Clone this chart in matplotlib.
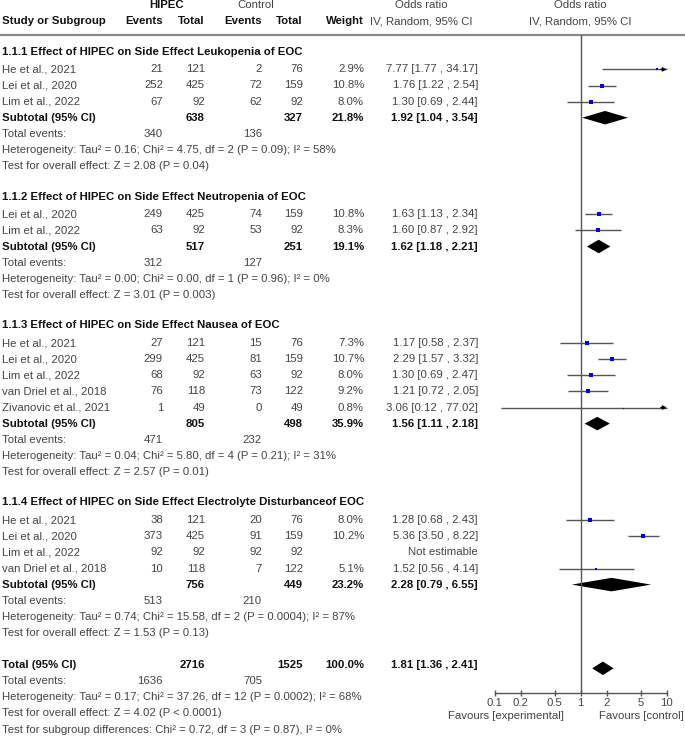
import numpy as np
import matplotlib.pyplot as plt
from matplotlib.patches import Polygon
from matplotlib.ticker import NullLocator

plt.rcParams['font.family'] = ['Liberation Sans', 'DejaVu Sans']

# ---- data ----
group_titles = [
    "1.1.1 Effect of HIPEC on Side Effect Leukopenia of EOC",
    "1.1.2 Effect of HIPEC on Side Effect Neutropenia of EOC",
    "1.1.3 Effect of HIPEC on Side Effect Nausea of EOC",
    "1.1.4 Effect of HIPEC on Side Effect Electrolyte Disturbanceof EOC",
]
study_names = [
    ["He et al., 2021", "Lei et al., 2020", "Lim et al., 2022"],
    ["Lei et al., 2020", "Lim et al., 2022"],
    ["He et al., 2021", "Lei et al., 2020", "Lim et al., 2022",
     "van Driel et al., 2018", "Zivanovic et al., 2021"],
    ["He et al., 2021", "Lei et al., 2020", "Lim et al., 2022",
     "van Driel et al., 2018"],
]
hipec_events = [[21, 252, 67], [249, 63], [27, 299, 68, 76, 1], [38, 373, 92, 10]]
hipec_total = [[121, 425, 92], [425, 92], [121, 425, 92, 118, 49], [121, 425, 92, 118]]
ctrl_events = [[2, 72, 62], [74, 53], [15, 81, 63, 73, 0], [20, 91, 92, 7]]
ctrl_total = [[76, 159, 92], [159, 92], [76, 159, 92, 122, 49], [76, 159, 92, 122]]
weights = [[2.9, 10.8, 8.0], [10.8, 8.3], [7.3, 10.7, 8.0, 9.2, 0.8], [8.0, 10.2, None, 5.1]]
or_est = [[7.77, 1.76, 1.30], [1.63, 1.60], [1.17, 2.29, 1.30, 1.21, 3.06], [1.28, 5.36, None, 1.52]]
or_lo = [[1.77, 1.22, 0.69], [1.13, 0.87], [0.58, 1.57, 0.69, 0.72, 0.12], [0.68, 3.50, None, 0.56]]
or_hi = [[34.17, 2.54, 2.44], [2.34, 2.92], [2.37, 3.32, 2.47, 2.05, 77.02], [2.43, 8.22, None, 4.14]]

sub_hipec_total = [638, 517, 805, 756]
sub_ctrl_total = [327, 251, 498, 449]
sub_weight = [21.8, 19.1, 35.9, 23.2]
sub_or = [1.92, 1.62, 1.56, 2.28]
sub_lo = [1.04, 1.18, 1.11, 0.79]
sub_hi = [3.54, 2.21, 2.18, 6.55]
sub_ev_hipec = [340, 312, 471, 513]
sub_ev_ctrl = [136, 127, 232, 210]
sub_het = [
    "Heterogeneity: Tau\u00b2 = 0.16; Chi\u00b2 = 4.75, df = 2 (P = 0.09); I\u00b2 = 58%",
    "Heterogeneity: Tau\u00b2 = 0.00; Chi\u00b2 = 0.00, df = 1 (P = 0.96); I\u00b2 = 0%",
    "Heterogeneity: Tau\u00b2 = 0.04; Chi\u00b2 = 5.80, df = 4 (P = 0.21); I\u00b2 = 31%",
    "Heterogeneity: Tau\u00b2 = 0.74; Chi\u00b2 = 15.58, df = 2 (P = 0.0004); I\u00b2 = 87%",
]
sub_z = [
    "Test for overall effect: Z = 2.08 (P = 0.04)",
    "Test for overall effect: Z = 3.01 (P = 0.003)",
    "Test for overall effect: Z = 2.57 (P = 0.01)",
    "Test for overall effect: Z = 1.53 (P = 0.13)",
]

total_hipec, total_ctrl = 2716, 1525
total_or, total_lo, total_hi = 1.81, 1.36, 2.41
total_ev_hipec, total_ev_ctrl = 1636, 705
total_het = "Heterogeneity: Tau\u00b2 = 0.17; Chi\u00b2 = 37.26, df = 12 (P = 0.0002); I\u00b2 = 68%"
total_z = "Test for overall effect: Z = 4.02 (P < 0.0001)"
subgroup_diff = "Test for subgroup differences: Chi\u00b2 = 0.72, df = 3 (P = 0.87), I\u00b2 = 0%"

ticks = [0.1, 0.2, 0.5, 1, 2, 5, 10]
tick_labels = ["0.1", "0.2", "0.5", "1", "2", "5", "10"]

# ---- layout (pixels) ----
W, H = 685, 740
ROW0, ROWH = 5.0, 16.1
X_NAME, X_HEV, X_HTOT, X_CEV, X_CTOT, X_W, X_OR = 2, 163, 205, 262, 303, 364, 478
FS = 8.2
GREY = '#444444'
BLACK = '#111111'

fig = plt.figure(figsize=(W / 100, H / 100), dpi=100)
ax = fig.add_axes([0, 0, 1, 1])
ax.set_xlim(0, W)
ax.set_ylim((H - ROW0) / ROWH, -ROW0 / ROWH)
ax.axis('off')

def pix_row(y):
    return (y - ROW0) / ROWH

# forest panel: log axis between OR 0.1 and 10
ax_top, ax_bot = 35, 692.7
x01, x10 = 494.6, 666.8
fx = fig.add_axes([x01 / W, (H - ax_bot) / H, (x10 - x01) / W, (ax_bot - ax_top) / H])
fx.set_xscale('log')
fx.set_xlim(0.1, 10)
fx.set_ylim(pix_row(ax_bot), pix_row(ax_top))
fx.patch.set_alpha(0)
for s in ['top', 'left', 'right']:
    fx.spines[s].set_visible(False)
fx.spines['bottom'].set_color('#555555')
fx.spines['bottom'].set_linewidth(1.0)
fx.set_yticks([])
fx.set_xticks(ticks)
fx.set_xticklabels(tick_labels)
fx.xaxis.set_minor_locator(NullLocator())
fx.tick_params(axis='x', direction='inout', length=4, width=1.0, color='#555555',
               labelsize=FS, labelcolor=GREY, pad=1.5)
fx.axvline(1, color='#555555', lw=1.0)


def txt(x, r, s, ha='left', bold=False, color=None):
    ax.text(x, r, s, ha=ha, va='center', fontsize=FS,
            fontweight='bold' if bold else 'normal',
            color=color or (BLACK if bold else GREY))


def ci_text(e, lo, hi):
    return f"{e:.2f} [{lo:.2f} , {hi:.2f}]"


def diamond(r, e, lo, hi):
    h = 0.42
    fx.add_patch(Polygon([[lo, r], [e, r - h], [hi, r], [e, r + h]],
                         closed=True, color='black', lw=0, clip_on=False))


# headers
txt(167, 0, "HIPEC", ha='center', bold=True)
txt(256, 0, "Control", ha='center')
txt(421, 0, "Odds ratio", ha='center')
txt(580, 0, "Odds ratio", ha='center')
txt(X_NAME, 1, "Study or Subgroup", bold=True)
txt(X_HEV, 1, "Events", ha='right', bold=True)
txt(X_HTOT, 1, "Total", ha='right', bold=True)
txt(X_CEV, 1, "Events", ha='right', bold=True)
txt(X_CTOT, 1, "Total", ha='right', bold=True)
txt(X_W, 1, "Weight", ha='right', bold=True)
txt(421, 1, "IV, Random, 95% CI", ha='center')
txt(580, 1, "IV, Random, 95% CI", ha='center')
ax.hlines(pix_row(35), 0, W, color='#8a8a8a', lw=1.6)

r = 3
for g in range(len(group_titles)):
    txt(X_NAME, r - 0.1, group_titles[g], bold=True)
    r += 1
    for i, name in enumerate(study_names[g]):
        txt(X_NAME, r, name)
        txt(X_HEV, r, str(hipec_events[g][i]), ha='right')
        txt(X_HTOT, r, str(hipec_total[g][i]), ha='right')
        txt(X_CEV, r, str(ctrl_events[g][i]), ha='right')
        txt(X_CTOT, r, str(ctrl_total[g][i]), ha='right')
        w = weights[g][i]
        if w is None:
            txt(X_OR, r, "Not estimable", ha='right')
        else:
            txt(X_W, r, f"{w:.1f}%", ha='right')
            e, lo, hi = or_est[g][i], or_lo[g][i], or_hi[g][i]
            txt(X_OR, r, ci_text(e, lo, hi), ha='right')
            fx.hlines(r, max(lo, 0.1), min(hi, 10), color='#555555', lw=1.0, clip_on=False)
            if hi > 10:
                fx.annotate('', xy=(10, r), xytext=(8.5, r),
                            arrowprops=dict(arrowstyle='-|>', color='black', lw=0.8,
                                            mutation_scale=6, shrinkA=0, shrinkB=0))
            fx.plot(e, r, 's', color='#0000ee', ms=0.95 * np.sqrt(w), mew=0, clip_on=False)
        r += 1
    txt(X_NAME, r, "Subtotal (95% CI)", bold=True)
    txt(X_HTOT, r, str(sub_hipec_total[g]), ha='right', bold=True)
    txt(X_CTOT, r, str(sub_ctrl_total[g]), ha='right', bold=True)
    txt(X_W, r, f"{sub_weight[g]:.1f}%", ha='right', bold=True)
    txt(X_OR, r, ci_text(sub_or[g], sub_lo[g], sub_hi[g]), ha='right', bold=True)
    diamond(r, sub_or[g], sub_lo[g], sub_hi[g])
    r += 1
    txt(X_NAME, r, "Total events:")
    txt(X_HEV, r, str(sub_ev_hipec[g]), ha='right')
    txt(X_CEV, r, str(sub_ev_ctrl[g]), ha='right')
    r += 1
    txt(X_NAME, r, sub_het[g])
    r += 1
    txt(X_NAME, r, sub_z[g])
    r += 2

txt(X_NAME, r, "Total (95% CI)", bold=True)
txt(X_HTOT, r, str(total_hipec), ha='right', bold=True)
txt(X_CTOT, r, str(total_ctrl), ha='right', bold=True)
txt(X_W, r, "100.0%", ha='right', bold=True)
txt(X_OR, r, ci_text(total_or, total_lo, total_hi), ha='right', bold=True)
diamond(r + 0.2, total_or, total_lo, total_hi)
r += 1
txt(X_NAME, r, "Total events:")
txt(X_HEV, r, str(total_ev_hipec), ha='right')
txt(X_CEV, r, str(total_ev_ctrl), ha='right')
r += 1
txt(X_NAME, r, total_het)
r += 1
txt(X_NAME, r, total_z)
r += 1
txt(X_NAME, r, subgroup_diff)

txt(506, pix_row(716), "Favours [experimental]", ha='center')
txt(641, pix_row(716), "Favours [control]", ha='center')

fig.savefig("out.png", dpi=100)
